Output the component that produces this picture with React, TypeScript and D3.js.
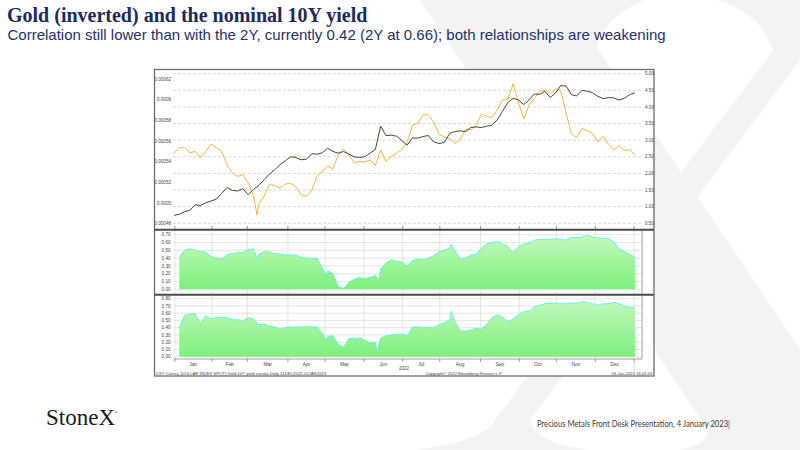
import React from 'react';
import * as d3 from 'd3';

// ---------- DATA ----------
const START_DATE = '2021-12-31';
const END_DATE = '2023-01-02';
const SAMPLE_STEP = 3; // values below are read every 3 business days from START_DATE

// US 10Y yield (right axis)
const yield10y = [
  0.74, 0.77, 0.85, 0.89, 1.06, 1.03, 1.12, 1.17, 1.23, 1.40,
  1.58, 1.49, 1.47, 1.54, 1.36, 1.52, 1.64, 1.81, 1.98, 2.11,
  2.26, 2.38, 2.50, 2.48, 2.41, 2.43, 2.59, 2.58, 2.62, 2.76,
  2.66, 2.61, 2.66, 2.58, 2.50, 2.48, 2.50, 2.61, 2.72, 3.42,
  3.14, 3.15, 3.12, 2.99, 2.85, 3.07, 3.06, 3.11, 3.14, 2.95,
  2.90, 2.93, 3.20, 3.26, 3.28, 3.26, 3.38, 3.40, 3.38, 3.42,
  3.45, 3.61, 3.87, 4.13, 4.26, 4.21, 4.07, 4.21, 4.39, 4.38,
  4.47, 4.28, 4.42, 4.64, 4.63, 4.37, 4.33, 4.50, 4.47, 4.43,
  4.32, 4.25, 4.28, 4.27, 4.21, 4.26, 4.37, 4.42,
];

// Gold inverted (1/price), in units of 1e-5 (left axis)
const goldInvE5 = [
  54.84, 55.32, 55.39, 54.84, 55.00, 54.39, 55.00, 55.71, 55.36, 55.00,
  53.68, 52.94, 52.58, 52.74, 51.94, 50.71, 49.90, 50.65, 51.81, 51.68,
  51.45, 51.84, 51.91, 51.55, 50.81, 50.65, 51.20, 52.62, 53.03, 53.62,
  53.26, 54.68, 55.23, 54.68, 53.90, 54.03, 53.97, 54.16, 53.65, 55.13,
  54.03, 54.49, 54.84, 55.20, 55.87, 57.55, 57.71, 58.52, 58.55, 57.84,
  56.68, 56.39, 56.23, 55.78, 56.16, 57.13, 57.10, 57.49, 58.61, 58.39,
  58.26, 59.03, 59.97, 60.03, 61.55, 59.78, 58.13, 59.48, 60.10, 60.81,
  60.97, 60.55, 61.03, 60.87, 58.71, 56.71, 56.32, 57.23, 57.00, 56.74,
  55.91, 56.45, 55.71, 55.16, 55.55, 55.07, 55.16, 54.68,
];
const goldInvExtraE5: [string, number][] = [['2022-03-08', 48.87]];

// Rolling correlation, gold (inverted) vs 10Y yield
const corr10y = [
  null, 0.41, 0.50, 0.52, 0.50, 0.48, 0.48, 0.42, 0.40, 0.39,
  0.44, 0.46, 0.47, 0.47, 0.51, 0.52, 0.45, 0.48, 0.48, 0.46,
  0.45, 0.44, 0.44, 0.44, 0.41, 0.40, 0.39, 0.40, 0.27, 0.24,
  0.20, 0.04, 0.01, 0.09, 0.13, 0.15, 0.14, 0.15, 0.18, 0.26,
  0.34, 0.38, 0.36, 0.35, 0.30, 0.37, 0.39, 0.38, 0.40, 0.43,
  0.48, 0.50, 0.53, 0.50, 0.39, 0.40, 0.44, 0.45, 0.53, 0.58,
  0.60, 0.61, 0.58, 0.55, 0.47, 0.55, 0.58, 0.59, 0.63, 0.64,
  0.64, 0.64, 0.65, 0.64, 0.63, 0.67, 0.66, 0.67, 0.69, 0.67,
  0.66, 0.65, 0.65, 0.61, 0.52, 0.48, 0.45, 0.41,
];
const corr10yExtra: [string, number][] = [
  ['2022-03-08', 0.39], ['2022-05-02', 0.18], ['2022-06-13', 0.12], ['2022-08-09', 0.58],
];

// Rolling correlation, gold (inverted) vs 2Y yield
const corr2y = [
  null, 0.40, 0.57, 0.59, 0.59, 0.46, 0.57, 0.52, 0.54, 0.54,
  0.54, 0.51, 0.51, 0.49, 0.54, 0.52, 0.44, 0.45, 0.42, 0.41,
  0.38, 0.40, 0.41, 0.41, 0.41, 0.42, 0.41, 0.41, 0.32, 0.28,
  0.29, 0.17, 0.13, 0.25, 0.25, 0.26, 0.23, 0.19, 0.20, 0.26,
  0.29, 0.30, 0.31, 0.31, 0.29, 0.41, 0.41, 0.40, 0.40, 0.40,
  0.44, 0.47, 0.50, 0.48, 0.36, 0.35, 0.37, 0.39, 0.38, 0.44,
  0.54, 0.58, 0.55, 0.48, 0.52, 0.58, 0.62, 0.63, 0.69, 0.71,
  0.73, 0.74, 0.74, 0.73, 0.73, 0.74, 0.74, 0.76, 0.75, 0.73,
  0.71, 0.73, 0.73, 0.75, 0.73, 0.70, 0.68, 0.67,
];
const corr2yExtra: [string, number][] = [
  ['2022-05-02', 0.23], ['2022-06-10', 0.07], ['2022-08-09', 0.63],
];

const yieldTicks = [0.5, 1.0, 1.5, 2.0, 2.5, 3.0, 3.5, 4.0, 4.5, 5.0];
const goldTicks = [0.00048, 0.0005, 0.00052, 0.00054, 0.00056, 0.00058, 0.0006, 0.00062];
const corr10yTicks = [0, 0.1, 0.2, 0.3, 0.4, 0.5, 0.6, 0.7];
const corr2yTicks = [0, 0.1, 0.2, 0.3, 0.4, 0.5, 0.6, 0.7, 0.8];

const TITLE = 'Gold (inverted) and the nominal 10Y yield';
const SUBTITLE =
  'Correlation still lower than with the 2Y, currently 0.42 (2Y at 0.66); both relationships are weakening';
const FOOTER = 'Precious Metals Front Desk Presentation, 4 January 2023|';
const BBG_LEFT = 'DXY Curncy (DOLLAR INDEX SPOT) Gold 10Y yield correla  Daily 31DEC2021-02JAN2023';
const BBG_MID = 'Copyright\u00A9 2022 Bloomberg Finance L.P.';
const BBG_RIGHT = '03-Jan-2023 16:02:05';
const YEAR_LABEL = '2022';

// ---------- HELPERS ----------
const parse = d3.utcParse('%Y-%m-%d');
const fmtIso = d3.utcFormat('%Y-%m-%d');
const bdays: Date[] = d3
  .utcDays(parse(START_DATE)!, d3.utcDay.offset(parse(END_DATE)!, 1))
  .filter((d) => d.getUTCDay() % 6 !== 0);
const bIndex = (s: string) => bdays.findIndex((d) => fmtIso(d) === s);

type Pt = { idx: number; v: number };
function series(vals: (number | null)[], extra: [string, number][] = [], k = 1): Pt[] {
  const pts: Pt[] = [];
  vals.forEach((v, i) => {
    if (v != null) pts.push({ idx: i * SAMPLE_STEP, v: v * k });
  });
  extra.forEach(([d, v]) => pts.push({ idx: bIndex(d), v: v * k }));
  return pts.sort((a, b) => a.idx - b.idx);
}

const SANS = '"Liberation Sans", Arial, sans-serif';
const SERIF = '"Liberation Serif", "Times New Roman", serif';

export default function App() {
  const x = d3.scaleLinear().domain([0, bdays.length - 1]).range([174, 635]);

  const yYield = d3.scaleLinear().domain([0.5, 5]).range([223.3, 73.7]);
  const yGold = d3.scaleLinear().domain([0.00048, 0.00062]).range([223.7, 79]);
  const yMid = d3.scaleLinear().domain([0, 0.7]).range([289.3, 234.7]);
  const yBot = d3.scaleLinear().domain([0, 0.8]).range([356.7, 298.7]);

  const yieldPts = series(yield10y);
  const goldPts = series(goldInvE5, goldInvExtraE5, 1e-5);
  const midPts = series(corr10y, corr10yExtra);
  const botPts = series(corr2y, corr2yExtra);

  const lineYield = d3.line<Pt>().x((d) => x(d.idx)).y((d) => yYield(d.v));
  const lineGold = d3.line<Pt>().x((d) => x(d.idx)).y((d) => yGold(d.v));
  const areaMid = d3.area<Pt>().x((d) => x(d.idx)).y0(yMid(0)).y1((d) => yMid(d.v));
  const lineMid = d3.line<Pt>().x((d) => x(d.idx)).y((d) => yMid(d.v));
  const areaBot = d3.area<Pt>().x((d) => x(d.idx)).y0(yBot(0)).y1((d) => yBot(d.v));
  const lineBot = d3.line<Pt>().x((d) => x(d.idx)).y((d) => yBot(d.v));

  // month boundaries (business-day based)
  const months = d3.utcMonths(
    d3.utcMonth.floor(bdays[1]),
    d3.utcMonth.offset(d3.utcMonth.floor(bdays[bdays.length - 1]), 1)
  );
  const bounds = months.map((m) => {
    const i = bdays.findIndex((d) => d >= m);
    return x(i - 0.5);
  });
  const monthLabels = months.slice(0, -1).map((m, i) => ({
    label: d3.utcFormat('%b')(m),
    cx: (bounds[i] + bounds[i + 1]) / 2,
  }));

  const fmt2 = d3.format('.2f');
  const plotL = 174;
  const plotR = 642;
  const boxL = 154.5;
  const boxR = 654;

  return (
    <svg
      width={800}
      height={450}
      viewBox="0 0 800 450"
      style={{ position: 'absolute', left: 0, top: 0, background: '#fff' }}
    >
      <defs>
        <linearGradient id="gMid" gradientUnits="userSpaceOnUse" x1="0" x2="0" y1={yMid(0.7)} y2={yMid(0)}>
          <stop offset="0" stopColor="#c6f8c0" />
          <stop offset="1" stopColor="#7cf07b" />
        </linearGradient>
        <linearGradient id="gBot" gradientUnits="userSpaceOnUse" x1="0" x2="0" y1={yBot(0.8)} y2={yBot(0)}>
          <stop offset="0" stopColor="#c6f8c0" />
          <stop offset="1" stopColor="#7cf07b" />
        </linearGradient>
      </defs>
      <rect x={0} y={0} width={800} height={450} fill="#ffffff" />

      {/* watermark X */}
      <g fill="#f2f3f5">
        <path d="M420,0 L645,0 C615,12 600,30 597,48 L868,450 L680,450 C698,447 708,440 708,430 Z" />
        <path d="M716,0 L825,0 L808,50 L530,420 C532,436 556,446 590,450 L415,450 C450,446 488,436 495,420 L773,50 C765,25 745,8 716,0 Z" />
      </g>

      {/* titles */}
      <text x={7} y={21.6} fontFamily={SERIF} fontWeight="bold" fontSize={20} fill="#1d2a5b">
        {TITLE}
      </text>
      <text x={7.5} y={39.6} fontFamily={SANS} fontSize={15} fill="#263168">
        {SUBTITLE}
      </text>

      {/* chart box */}
      <rect x={boxL} y={69.5} width={boxR - boxL} height={306.5} fill="#fff" stroke="#6e6e6e" strokeWidth={1.3} />

      {/* ---- top panel ---- */}
      {yieldTicks.map((t) => (
        <g key={'yt' + t}>
          <line x1={plotL - 1} x2={plotR - 1} y1={yYield(t)} y2={yYield(t)} stroke="#cfcfcf" strokeWidth={0.8} strokeDasharray="3,2" />
          <text x={645} y={yYield(t) + 1.6} fontFamily={SANS} fontSize={4.6} fill="#444">
            {fmt2(t)}
          </text>
        </g>
      ))}
      {goldTicks.map((t) => (
        <text key={'gt' + t} x={171} y={yGold(t) + 1.6} textAnchor="end" fontFamily={SANS} fontSize={4.6} fill="#444">
          {String(+t.toFixed(5))}
        </text>
      ))}
      {bounds.map((bx, i) => (
        <line key={'tt' + i} x1={bx} x2={bx} y1={226} y2={229} stroke="#666" strokeWidth={0.7} />
      ))}
      <path d={lineGold(goldPts) || ''} fill="none" stroke="#f6b543" strokeWidth={1} />
      <path d={lineYield(yieldPts) || ''} fill="none" stroke="#3e4b2f" strokeWidth={1} />

      {/* ---- middle panel ---- */}
      {corr10yTicks.map((t) => (
        <g key={'mt' + t}>
          <line x1={plotL} x2={plotR} y1={yMid(t)} y2={yMid(t)} stroke="#d8d8d8" strokeWidth={0.7} />
          <text x={170.5} y={yMid(t) + 1.6} textAnchor="end" fontFamily={SANS} fontSize={4.6} fill="#444">
            {fmt2(t)}
          </text>
        </g>
      ))}
      {bounds.map((bx, i) => (
        <line key={'mv' + i} x1={bx} x2={bx} y1={231} y2={294} stroke="#d8d8d8" strokeWidth={0.7} />
      ))}
      <path d={areaMid(midPts) || ''} fill="url(#gMid)" />
      <path d={lineMid(midPts) || ''} fill="none" stroke="#62eee0" strokeWidth={0.9} />
      <line x1={plotR} x2={plotR} y1={230.5} y2={294} stroke="#8a8a8a" strokeWidth={0.8} />

      {/* ---- bottom panel ---- */}
      {corr2yTicks.map((t) => (
        <g key={'bt' + t}>
          <line x1={plotL} x2={plotR} y1={yBot(t)} y2={yBot(t)} stroke="#d8d8d8" strokeWidth={0.7} />
          <text x={170.5} y={yBot(t) + 1.6} textAnchor="end" fontFamily={SANS} fontSize={4.6} fill="#444">
            {fmt2(t)}
          </text>
        </g>
      ))}
      {bounds.map((bx, i) => (
        <line key={'bv' + i} x1={bx} x2={bx} y1={296} y2={359} stroke="#d8d8d8" strokeWidth={0.7} />
      ))}
      <path d={areaBot(botPts) || ''} fill="url(#gBot)" />
      <path d={lineBot(botPts) || ''} fill="none" stroke="#62eee0" strokeWidth={0.9} />
      <line x1={plotR} x2={plotR} y1={295.5} y2={359} stroke="#8a8a8a" strokeWidth={0.8} />

      {/* panel separators */}
      <line x1={boxL} x2={boxR} y1={229.8} y2={229.8} stroke="#4a4a4a" strokeWidth={2} />
      <line x1={boxL} x2={boxR} y1={294.8} y2={294.8} stroke="#4a4a4a" strokeWidth={2} />

      {/* x axis */}
      <line x1={plotL} x2={plotR} y1={359} y2={359} stroke="#8a8a8a" strokeWidth={0.8} />
      {bounds.map((bx, i) => (
        <line key={'xt' + i} x1={bx} x2={bx} y1={359} y2={362} stroke="#777" strokeWidth={0.7} />
      ))}
      <line
        x1={bounds[bounds.length - 1]}
        x2={bounds[bounds.length - 1]}
        y1={362}
        y2={371}
        stroke="#999"
        strokeWidth={0.6}
        strokeDasharray="1.5,1"
      />
      {monthLabels.map((m) => (
        <text key={'ml' + m.label} x={m.cx} y={365.5} textAnchor="middle" fontFamily={SANS} fontSize={4.8} fill="#444">
          {m.label}
        </text>
      ))}
      <text x={404} y={370} textAnchor="middle" fontFamily={SANS} fontSize={4.6} fill="#444">
        {YEAR_LABEL}
      </text>

      {/* bloomberg footer */}
      <text x={156} y={374.6} fontFamily={SANS} fontSize={4.2} fill="#444">
        {BBG_LEFT}
      </text>
      <text x={464} y={374.6} textAnchor="middle" fontFamily={SANS} fontSize={4.2} fill="#444">
        {BBG_MID}
      </text>
      <text x={652.5} y={374.6} textAnchor="end" fontFamily={SANS} fontSize={4.2} fill="#444">
        {BBG_RIGHT}
      </text>

      {/* logo & footer */}
      <text x={46} y={425} fontFamily={SERIF} fontSize={23} fill="#1a1a1a">
        StoneX
      </text>
      <text x={114.5} y={414} fontFamily={SANS} fontSize={4} fill="#1a1a1a">
        ®
      </text>
      <text
        x={537}
        y={426.5}
        fontFamily="Lato, 'Open Sans', sans-serif"
        fontSize={8.8}
        fill="#3c3c3c"
        textLength={193}
        lengthAdjust="spacingAndGlyphs"
      >
        {FOOTER}
      </text>
    </svg>
  );
}
